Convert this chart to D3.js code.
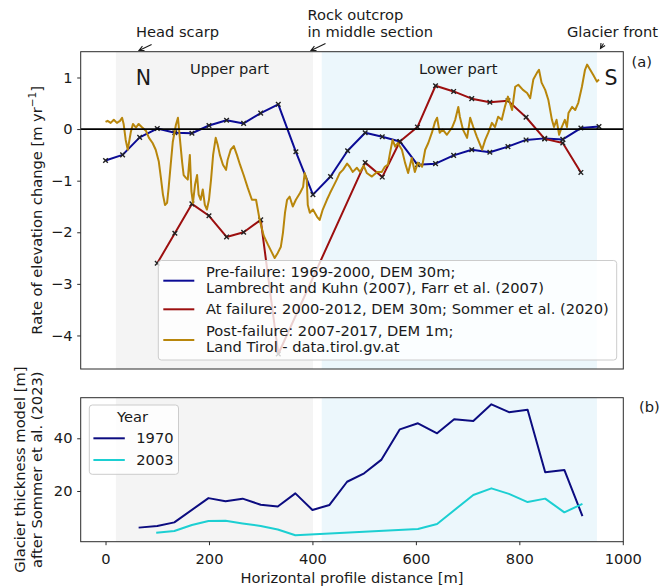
<!DOCTYPE html>
<html>
<head>
<meta charset="utf-8">
<script src="https://cdn.jsdelivr.net/npm/d3@7"></script>
<style>
  body { margin: 0; background: #fff; }
  text { font-family: "DejaVu Sans", sans-serif; fill: #1a1a1a; }
</style>
</head>
<body>
<svg id="fig" width="671" height="587"></svg>
<script>
// ---- Profile sections [m] ----
const upperPart = [20, 401];
const lowerPart = [418, 950];

// ---- (a) Rate of elevation change along the profile [m/yr] ----
const profileDist = [0, 33, 66, 100, 134, 167, 200, 234, 267, 300, 334, 368, 401, 435, 468,
  502, 535, 569, 603, 638, 673, 708, 743, 778, 813, 849, 884, 919, 954];
const preFailure = [-0.61, -0.50, -0.16, 0.01, -0.07, -0.08, 0.07, 0.17, 0.11, 0.31, 0.48, -0.44,
  -1.27, -0.92, -0.42, -0.07, -0.15, -0.24, -0.69, -0.67, -0.51, -0.40, -0.45, -0.34, -0.21,
  -0.18, -0.20, 0.02, 0.05];
const atFailure = [null, null, null, -2.60, -2.02, -1.45, -1.68, -2.09, -2.00, -1.76, -4.36,
  null, null, null, null, -0.65, -0.93, -0.24, 0.04, 0.84, 0.73, 0.59, 0.52, 0.55, 0.23,
  -0.19, -0.27, -0.84, null];

const postDist = [0, 4, 10, 16, 22, 28, 32, 35, 39, 43, 49, 53, 59, 64, 70, 78, 84, 91, 97, 103,
  107, 111, 115, 119, 122, 126, 130, 136, 140, 144, 148, 151, 155, 159, 163, 166, 169, 173, 177,
  180, 184, 188, 192, 196, 200, 204, 208, 213, 217, 221, 227, 233, 236, 242, 248, 254, 260, 267,
  275, 283, 291, 298, 306, 314, 321, 327, 333, 339, 343, 347, 351, 356, 362, 368, 376, 382, 385,
  389, 391, 395, 401, 409, 414, 420, 428, 434, 440, 447, 453, 459, 467, 472, 478, 486, 492, 499,
  505, 515, 525, 534, 540, 546, 550, 555, 560, 565, 573, 579, 585, 592, 598, 604, 612, 618, 624,
  631, 637, 641, 646, 652, 660, 670, 676, 682, 685, 691, 699, 705, 711, 718, 728, 734, 740, 747,
  753, 759, 766, 772, 778, 786, 792, 798, 807, 815, 821, 827, 834, 838, 843, 850, 856, 863, 867,
  872, 877, 882, 888, 892, 895, 902, 908, 914, 921, 927, 931, 937, 943, 950, 954];
const postFailure = [0.14, 0.16, 0.12, 0.18, 0.12, 0.16, 0.22, 0.10, -0.21, -0.40, -0.05, 0.10,
  0.03, 0.10, 0.04, -0.03, -0.17, -0.27, -0.40, -0.63, -0.94, -1.27, -1.47, -1.43, -1.14, -0.69,
  -0.25, 0.08, 0.22, -0.21, -0.63, -0.89, -0.94, -0.98, -0.50, -1.20, -1.43, -1.08, -0.89, -1.27,
  -1.37, -1.17, -1.47, -1.56, -1.37, -0.98, -0.50, -0.17, -0.31, -0.50, -0.69, -0.79, -0.60,
  -0.40, -0.33, -0.50, -0.69, -0.89, -1.14, -1.37, -1.37, -1.76, -2.07, -2.24, -2.38, -2.50,
  -2.40, -2.28, -2.01, -1.62, -1.37, -1.31, -1.50, -1.37, -1.24, -1.12, -0.85, -0.98, -1.47,
  -1.62, -1.56, -1.70, -1.76, -1.56, -1.37, -1.24, -1.12, -0.98, -0.85, -0.79, -0.67, -0.73,
  -0.83, -0.75, -0.83, -0.71, -0.85, -0.92, -0.83, -0.83, -0.73, -0.69, -0.46, -0.21, -0.34,
  -0.27, -0.40, -0.65, -0.85, -0.56, -0.83, -0.65, -0.73, -0.40, -0.27, -0.07, 0.14, 0.22, -0.07,
  -0.01, -0.11, 0.03, 0.18, 0.43, 0.24, -0.01, -0.17, 0.22, 0.04, -0.15, -0.40, -0.21, -0.07,
  0.12, 0.04, 0.24, 0.18, 0.43, 0.63, 0.37, 0.82, 0.86, 0.76, 0.70, 0.60, 0.96, 1.09, 1.15, 0.90,
  0.76, 0.57, 0.18, 0.04, 0.18, -0.11, 0.04, 0.18, 0.04, 0.31, 0.43, 0.37, 0.51, 0.82, 1.15,
  1.25, 1.15, 1.05, 0.92, 0.96];

const rateTicks = [1, 0, -1, -2, -3, -4];
const seriesLabels = [
  ["Pre-failure: 1969-2000, DEM 30m;", "Lambrecht and Kuhn (2007), Farr et al. (2007)"],
  ["At failure: 2000-2012, DEM 30m; Sommer et al. (2020)"],
  ["Post-failure: 2007-2017, DEM 1m;", "Land Tirol - data.tirol.gv.at"]
];

// ---- (b) Modelled glacier thickness [m] ----
const dist1970 = [64, 100, 133, 199, 232, 265, 300, 333, 367, 400, 433, 467, 500, 533, 569, 604,
  641, 674, 711, 746, 780, 816, 850, 887, 922];
const thick1970 = [6.1, 6.7, 8.1, 17.3, 16.1, 17.1, 14.8, 14.1, 19.1, 12.8, 14.7, 23.5, 26.7,
  31.8, 43.4, 45.7, 41.9, 47.2, 46.6, 52.9, 49.9, 50.8, 27.1, 28.0, 10.5];
const dist2003 = [98, 133, 167, 199, 232, 265, 300, 333, 367, 604, 641, 711, 746, 780, 816, 850,
  887, 922];
const thick2003 = [4.2, 4.8, 7.1, 8.6, 8.7, 7.7, 6.7, 5.4, 3.2, 5.6, 7.5, 18.5, 21.0, 18.9, 15.8,
  17.1, 11.9, 15.1];
const thickTicks = [20, 40];
const yearLabels = ["1970", "2003"];
const distTicks = [0, 200, 400, 600, 800, 1000];

// ---- Layout ----
const FS = 14.67;
const svg = d3.select("#fig");
const L = 80.7, R = 623.3;
const A = { top: 51.7, bottom: 369 };
const B = { top: 397.7, bottom: 541.7 };

const x = d3.scaleLinear().domain([-48, 1001]).range([L, R]);
const yA = d3.scaleLinear().domain([-4.65, 1.5]).range([A.bottom, A.top]);
const yB = d3.scaleLinear().domain([0.76, 55.4]).range([B.bottom, B.top]);

const colPre = "#0b0b95", colAt = "#9c0f0f", colPost = "#b8860b";
const col1970 = "#0c0c80", col2003 = "#1ccfd2";

svg.append("defs").append("clipPath").attr("id", "clipA")
  .append("rect").attr("x", L).attr("y", A.top).attr("width", R - L).attr("height", A.bottom - A.top);
svg.select("defs").append("clipPath").attr("id", "clipB")
  .append("rect").attr("x", L).attr("y", B.top).attr("width", R - L).attr("height", B.bottom - B.top);

function shade(g, top, bottom) {
  g.append("rect").attr("x", x(upperPart[0])).attr("width", x(upperPart[1]) - x(upperPart[0]))
    .attr("y", top).attr("height", bottom - top).attr("fill", "#f4f4f4");
  g.append("rect").attr("x", x(lowerPart[0])).attr("width", x(lowerPart[1]) - x(lowerPart[0]))
    .attr("y", top).attr("height", bottom - top).attr("fill", "#ecf7fc");
}

// ===== Panel (a) =====
const gA = svg.append("g").attr("clip-path", "url(#clipA)");
shade(gA, A.top, A.bottom);

const lineA = d3.line().x(d => x(d[0])).y(d => yA(d[1]));
const preData = profileDist.map((d, i) => [d, preFailure[i]]);
const atData = profileDist.map((d, i) => [d, atFailure[i]]).filter(d => d[1] !== null);
const postData = postDist.map((d, i) => [d, postFailure[i]]);

function xMarks(g, data) {
  const s = 2.3;
  g.append("g").selectAll("path").data(data).join("path")
    .attr("d", d => {
      const cx = x(d[0]), cy = yA(d[1]);
      return `M${cx - s},${cy - s}L${cx + s},${cy + s}M${cx - s},${cy + s}L${cx + s},${cy - s}`;
    })
    .attr("stroke", "#222").attr("stroke-width", 1.4).attr("fill", "none");
}

gA.append("path").datum(preData).attr("d", lineA)
  .attr("fill", "none").attr("stroke", colPre).attr("stroke-width", 2).attr("stroke-linejoin", "round");
xMarks(gA, preData);
gA.append("path").datum(atData).attr("d", lineA)
  .attr("fill", "none").attr("stroke", colAt).attr("stroke-width", 2).attr("stroke-linejoin", "round");
xMarks(gA, atData);
gA.append("path").datum(postData).attr("d", lineA)
  .attr("fill", "none").attr("stroke", colPost).attr("stroke-width", 2).attr("stroke-linejoin", "round");

// zero line
gA.append("line").attr("x1", L).attr("x2", R).attr("y1", yA(0)).attr("y2", yA(0))
  .attr("stroke", "#000").attr("stroke-width", 1.6);

// section labels
gA.append("text").attr("x", 143.5).attr("y", 84.5).attr("text-anchor", "middle")
  .attr("font-size", 20.5).text("N");
gA.append("text").attr("x", 611).attr("y", 84.5).attr("text-anchor", "middle")
  .attr("font-size", 20.5).text("S");
gA.append("text").attr("x", 229.5).attr("y", 74).attr("text-anchor", "middle")
  .attr("font-size", FS).text("Upper part");
gA.append("text").attr("x", 458.3).attr("y", 74).attr("text-anchor", "middle")
  .attr("font-size", FS).text("Lower part");

// legend (a)
const legA = svg.append("g");
legA.append("rect").attr("x", 158.3).attr("y", 260.5).attr("width", 458.4).attr("height", 99.5)
  .attr("rx", 3).attr("fill", "#fff").attr("fill-opacity", 0.8).attr("stroke", "#cccccc");
const legRows = [
  { color: colPre, lineY: 280.7, textY: [276.7, 292.7] },
  { color: colAt, lineY: 309.3, textY: [314.3] },
  { color: colPost, lineY: 340, textY: [335.7, 352.3] }
];
legRows.forEach((r, i) => {
  legA.append("line").attr("x1", 163.3).attr("x2", 194.3).attr("y1", r.lineY).attr("y2", r.lineY)
    .attr("stroke", r.color).attr("stroke-width", 2);
  seriesLabels[i].forEach((t, j) => {
    legA.append("text").attr("x", 206).attr("y", r.textY[j]).attr("font-size", FS).text(t);
  });
});

// axes (a)
svg.append("rect").attr("x", L).attr("y", A.top).attr("width", R - L).attr("height", A.bottom - A.top)
  .attr("fill", "none").attr("stroke", "#2b2b2b").attr("stroke-width", 1);
const axA = svg.append("g").attr("transform", `translate(${L},0)`)
  .call(d3.axisLeft(yA).tickValues(rateTicks).tickFormat(d3.format("d")).tickSize(3.5).tickPadding(4.7));
axA.select(".domain").remove();
axA.selectAll("text").attr("font-size", FS).attr("font-family", "DejaVu Sans").attr("fill", "#1a1a1a");
axA.selectAll("line").attr("stroke", "#2b2b2b");

const yLabA = svg.append("text").attr("transform", `translate(41.5,${(A.top + A.bottom) / 2}) rotate(-90)`)
  .attr("text-anchor", "middle").attr("font-size", FS);
yLabA.append("tspan").text("Rate of elevation change [m yr");
yLabA.append("tspan").attr("dy", -5.5).attr("font-size", 10.5).text("\u22121");
yLabA.append("tspan").attr("dy", 5.5).text("]");

svg.append("text").attr("x", 631.5).attr("y", 67).attr("font-size", FS).text("(a)");

// annotations above panel (a)
function arrow(x1, y1, x2, y2) {
  const ang = Math.atan2(y2 - y1, x2 - x1), h = 5.5, w = 0.45;
  svg.append("path")
    .attr("d", `M${x1},${y1}L${x2},${y2}` +
      `M${x2 - h * Math.cos(ang - w)},${y2 - h * Math.sin(ang - w)}L${x2},${y2}` +
      `L${x2 - h * Math.cos(ang + w)},${y2 - h * Math.sin(ang + w)}`)
    .attr("fill", "none").attr("stroke", "#1a1a1a").attr("stroke-width", 1.1);
}
svg.append("text").attr("x", 136).attr("y", 36.5).attr("font-size", FS).text("Head scarp");
arrow(151.6, 44.5, 139, 50.5);
svg.append("text").attr("x", 307.5).attr("y", 20).attr("font-size", FS).text("Rock outcrop");
svg.append("text").attr("x", 307.5).attr("y", 36.5).attr("font-size", FS).text("in middle section");
arrow(325.5, 43.5, 311, 50.5);
svg.append("text").attr("x", 567).attr("y", 36.5).attr("font-size", FS).text("Glacier front");
arrow(603.5, 43.5, 600.5, 48.5);

// ===== Panel (b) =====
const gB = svg.append("g").attr("clip-path", "url(#clipB)");
shade(gB, B.top, B.bottom);
const lineB = d3.line().x(d => x(d[0])).y(d => yB(d[1]));
gB.append("path").datum(dist1970.map((d, i) => [d, thick1970[i]])).attr("d", lineB)
  .attr("fill", "none").attr("stroke", col1970).attr("stroke-width", 2).attr("stroke-linejoin", "round");
gB.append("path").datum(dist2003.map((d, i) => [d, thick2003[i]])).attr("d", lineB)
  .attr("fill", "none").attr("stroke", col2003).attr("stroke-width", 2).attr("stroke-linejoin", "round");

// legend (b)
const legB = svg.append("g");
legB.append("rect").attr("x", 89.3).attr("y", 405).attr("width", 89.2).attr("height", 69.3)
  .attr("rx", 3).attr("fill", "#fff").attr("fill-opacity", 0.8).attr("stroke", "#cccccc");
legB.append("text").attr("x", 132.5).attr("y", 422.3).attr("text-anchor", "middle")
  .attr("font-size", FS).text("Year");
[[col1970, 438.3], [col2003, 460]].forEach((r, i) => {
  legB.append("line").attr("x1", 93.4).attr("x2", 124.8).attr("y1", r[1]).attr("y2", r[1])
    .attr("stroke", r[0]).attr("stroke-width", 2);
  legB.append("text").attr("x", 136.3).attr("y", r[1] + 5).attr("font-size", FS).text(yearLabels[i]);
});

// axes (b)
svg.append("rect").attr("x", L).attr("y", B.top).attr("width", R - L).attr("height", B.bottom - B.top)
  .attr("fill", "none").attr("stroke", "#2b2b2b").attr("stroke-width", 1);
const axB = svg.append("g").attr("transform", `translate(${L},0)`)
  .call(d3.axisLeft(yB).tickValues(thickTicks).tickFormat(d3.format("d")).tickSize(3.5).tickPadding(4.7));
axB.select(".domain").remove();
const axX = svg.append("g").attr("transform", `translate(0,${B.bottom})`)
  .call(d3.axisBottom(x).tickValues(distTicks).tickFormat(d3.format("d")).tickSize(3.5).tickPadding(8));
axX.select(".domain").remove();
[axB, axX].forEach(a => {
  a.selectAll("text").attr("font-size", FS).attr("font-family", "DejaVu Sans").attr("fill", "#1a1a1a");
  a.selectAll("line").attr("stroke", "#2b2b2b");
});

svg.append("text").attr("x", (L + R) / 2).attr("y", 583).attr("text-anchor", "middle")
  .attr("font-size", FS).text("Horizontal profile distance [m]");
const yLabB = svg.append("text").attr("transform", `translate(0,${(B.top + B.bottom) / 2}) rotate(-90)`)
  .attr("text-anchor", "middle").attr("font-size", FS);
yLabB.append("tspan").attr("x", 0).attr("y", 24.8).text("Glacier thickness model [m]");
yLabB.append("tspan").attr("x", 0).attr("y", 41.5).text("after Sommer et al. (2023)");

svg.append("text").attr("x", 639).attr("y", 412).attr("font-size", FS).text("(b)");
</script>
</body>
</html>
